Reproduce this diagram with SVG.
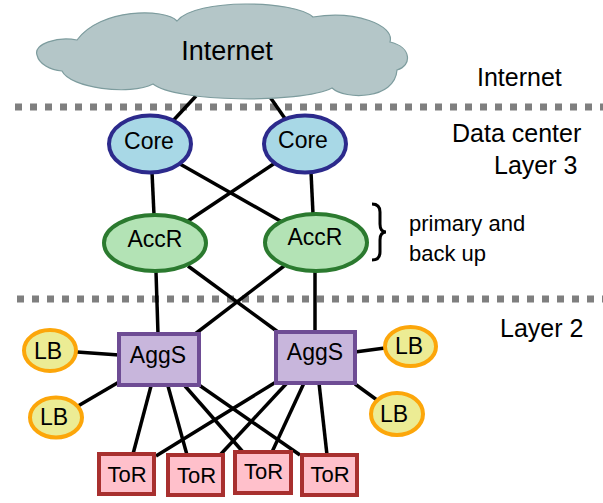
<svg xmlns="http://www.w3.org/2000/svg" width="603" height="503" viewBox="0 0 603 503">
<style>
text{font-family:"Liberation Sans",Arial,sans-serif;fill:#000}
.lbl{font-size:23px;text-anchor:middle}
.side{font-size:25px}
.note{font-size:22px}
.dash{stroke:#7f7f7f;stroke-width:7;stroke-dasharray:7 8;fill:none}
.edge line{stroke:#000;stroke-width:3.5}
.core{fill:#a8d8e6;stroke:#2c2a8c;stroke-width:4}
.acc{fill:#b3e3b5;stroke:#2b7a2f;stroke-width:4}
.agg{fill:#c8b6dc;stroke:#6e4c94;stroke-width:4}
.lb{fill:#ecec94;stroke:#fca60a;stroke-width:4}
.tor{fill:#ffc0cb;stroke:#a8302f;stroke-width:4}
</style>
<rect width="603" height="503" fill="#fff"/>
<g id="dividers">
<line class="dash" x1="15" y1="107" x2="603" y2="107"/>
<line class="dash" x1="17" y1="299" x2="603" y2="299"/>
</g>
<g id="connectors" class="edge">
<line x1="196" y1="96" x2="170" y2="124"/>
<line x1="270" y1="97" x2="286" y2="120"/>
<line x1="152" y1="172" x2="154" y2="215"/>
<line x1="311" y1="172" x2="313" y2="214"/>
<line x1="180" y1="164" x2="282" y2="222"/>
<line x1="275" y1="163" x2="188" y2="221"/>
<line x1="156" y1="272" x2="158" y2="334"/>
<line x1="315" y1="271" x2="315" y2="332"/>
<line x1="188" y1="266" x2="278" y2="332"/>
<line x1="284" y1="266" x2="195" y2="334"/>
<line x1="77" y1="352" x2="119" y2="355"/>
<line x1="78" y1="406" x2="119" y2="382"/>
<line x1="355" y1="352" x2="385" y2="348"/>
<line x1="355" y1="384" x2="377" y2="400"/>
<line x1="151" y1="386" x2="133" y2="454"/>
<line x1="168" y1="386" x2="187" y2="455"/>
<line x1="185" y1="386" x2="243" y2="452"/>
<line x1="199" y1="385" x2="300" y2="455"/>
<line x1="276" y1="382" x2="156" y2="456"/>
<line x1="287" y1="383" x2="220" y2="455"/>
<line x1="304" y1="383" x2="272" y2="452"/>
<line x1="319" y1="383" x2="327" y2="455"/>
</g>
<g id="internet">
<path d="M77,40 C58,36 33,44 37,55 C39,64 50,70 62,71 C70,88 130,96 153,84 C175,102 300,104 332,88 C345,100 395,100 397,70 C412,66 412,47 390,42 C395,25 355,10 313,17 C295,0 195,-2 177,21 C165,8 100,8 77,40 Z" fill="#b4c6c8" stroke="#7d9c9e" stroke-width="1.2"/>
<text x="227" y="60" style="font-size:27px;text-anchor:middle">Internet</text>
</g>
<g id="core1"><ellipse class="core" cx="150" cy="144" rx="41" ry="28.5"/><text class="lbl" x="149" y="149">Core</text></g>
<g id="core2"><ellipse class="core" cx="305" cy="144" rx="41" ry="28.5"/><text class="lbl" x="303" y="148">Core</text></g>
<g id="accr1"><ellipse class="acc" cx="155" cy="243" rx="51" ry="28"/><text class="lbl" x="155" y="247">AccR</text></g>
<g id="accr2"><ellipse class="acc" cx="316" cy="242.5" rx="51" ry="28.5"/><text class="lbl" x="315" y="245">AccR</text></g>
<g id="aggs1"><rect class="agg" x="119" y="334" width="80" height="51"/><text class="lbl" x="158" y="363">AggS</text></g>
<g id="aggs2"><rect class="agg" x="276" y="332" width="79" height="51"/><text class="lbl" x="315" y="360">AggS</text></g>
<g id="lb1"><ellipse class="lb" cx="50" cy="350.5" rx="26" ry="20.5"/><text class="lbl" x="48" y="359">LB</text></g>
<g id="lb2"><ellipse class="lb" cx="56" cy="417.5" rx="26" ry="20"/><text class="lbl" x="54" y="425">LB</text></g>
<g id="lb3"><ellipse class="lb" cx="410.5" cy="346.5" rx="25.5" ry="19.5"/><text class="lbl" x="409" y="354">LB</text></g>
<g id="lb4"><ellipse class="lb" cx="397" cy="414" rx="26" ry="21"/><text class="lbl" x="394" y="422">LB</text></g>
<g id="tor1"><rect class="tor" x="99" y="454" width="55" height="40"/><text class="lbl" x="127" y="482" style="font-size:22px">ToR</text></g>
<g id="tor2"><rect class="tor" x="168" y="455" width="55" height="40"/><text class="lbl" x="196.5" y="483" style="font-size:22px">ToR</text></g>
<g id="tor3"><rect class="tor" x="235" y="452" width="56" height="41"/><text class="lbl" x="263.5" y="479" style="font-size:22px">ToR</text></g>
<g id="tor4"><rect class="tor" x="302" y="455" width="55" height="40"/><text class="lbl" x="330" y="482" style="font-size:22px">ToR</text></g>
<g id="labels">
<text class="side" x="477" y="86">Internet</text>
<text class="side" x="452" y="142">Data center</text>
<text class="side" x="494" y="174">Layer 3</text>
<text class="side" x="500" y="337">Layer 2</text>
<path d="M372,204 C378,204 380,207 380,212 L380,224 C380,229 382,232 386,232 C382,232 380,235 380,240 L380,252 C380,257 378,260 372,260" fill="none" stroke="#000" stroke-width="3"/>
<text class="note" x="409" y="231">primary and</text>
<text class="note" x="409" y="261">back up</text>
</g>
</svg>
